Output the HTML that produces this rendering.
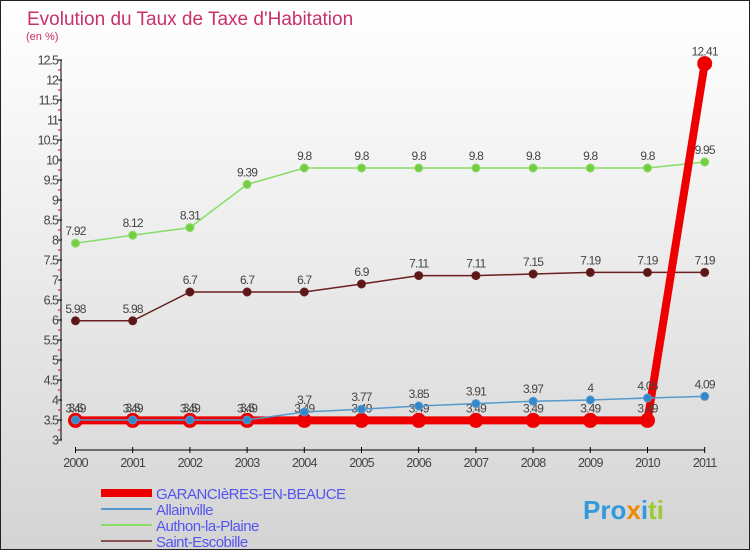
<!DOCTYPE html>
<html><head><meta charset="utf-8"><style>
body{margin:0;width:750px;height:550px;overflow:hidden}
#c{position:relative;width:748px;height:548px;border:1px solid #222;background:linear-gradient(#fff 0%,#f3f3f3 30%,#d4d4d4 100%);font-family:"Liberation Sans",sans-serif}
</style></head><body>
<div id="c">
<svg id="s" width="748" height="548"></svg>
</div>
<script>
const years=["2000","2001","2002","2003","2004","2005","2006","2007","2008","2009","2010","2011"];
const garancieres=[3.49,3.49,3.49,3.49,3.49,3.49,3.49,3.49,3.49,3.49,3.49,12.41];
const allainville=[3.5,3.5,3.5,3.5,3.7,3.77,3.85,3.91,3.97,4,4.05,4.09];
const authon=[7.92,8.12,8.31,9.39,9.8,9.8,9.8,9.8,9.8,9.8,9.8,9.95];
const saint=[5.98,5.98,6.7,6.7,6.7,6.9,7.11,7.11,7.15,7.19,7.19,7.19];
const yTicks=[3,3.5,4,4.5,5,5.5,6,6.5,7,7.5,8,8.5,9,9.5,10,10.5,11,11.5,12,12.5];
const NS="http://www.w3.org/2000/svg";
const svg=document.getElementById('s');
const X=i=>74.5+i*57.2;
const Y=v=>439-(v-3)*40;
function mk(t,a,p){const e=document.createElementNS(NS,t);for(const k in a)e.setAttribute(k,a[k]);(p||svg).appendChild(e);return e;}
let t=mk('text',{x:26,y:24,fill:'#c8306a','font-size':19});t.textContent="Evolution du Taux de Taxe d'Habitation";

t=mk('text',{x:25,y:39,fill:'#c8306a','font-size':11});t.textContent="(en %)";

let ax=mk('line',{x1:60,y1:Y(12.5),x2:60,y2:Y(3),stroke:'#000'});

yTicks.forEach(v=>{
 mk('line',{x1:57,x2:61,y1:Y(v),y2:Y(v),stroke:'#000'});
 if(v<12.5)mk('line',{x1:57,x2:60,y1:Y(v+0.25),y2:Y(v+0.25),stroke:'#e00'});
 const l=mk('text',{x:57,y:Y(v)+4.5,'text-anchor':'end','font-size':12.5,fill:'#444','letter-spacing':'-1'});l.textContent=v;
 
});
let xa=mk('line',{x1:X(0),x2:X(11),y1:449,y2:449,stroke:'#000'});

years.forEach((y,i)=>{
 mk('line',{x1:X(i),x2:X(i),y1:446,y2:452,stroke:'#000'});
 const l=mk('text',{x:X(i),y:466,'text-anchor':'middle','font-size':12.5,fill:'#444','letter-spacing':'-0.8'});l.textContent=y;
 
});
function series(d,col,w,r,name,fill){
 const g=mk('g',{});
 mk('polyline',{points:d.map((v,i)=>X(i)+','+Y(v)).join(' '),fill:'none',stroke:col,'stroke-width':w},g);
 d.forEach((v,i)=>{
  const c=mk('circle',{cx:X(i),cy:Y(v),r:r,fill:fill,stroke:col,'stroke-width':1},g);
  
  const l=mk('text',{x:X(i),y:Y(v)-8,'text-anchor':'middle','font-size':12,fill:'#444','letter-spacing':'-0.8'},g);l.textContent=v;
 });
}
series(authon,'#88dd66',1.5,4,'authon-series','#77cc44');
series(saint,'#6b1f1f',1.5,4,'saint-escobille-series','#5a1818');
series(garancieres,'#ee0000',8,7,'garancieres-series','#ee0000');
series(allainville,'#5599cc',1.5,4,'allainville-series','#3388cc');
const leg=[["GARANCIèRES-EN-BEAUCE",'#ee0000',8],["Allainville",'#5599cc',2],["Authon-la-Plaine",'#88dd66',2],["Saint-Escobille",'#8a5050',2]];
leg.forEach((e,i)=>{
 const y=492+i*16;
 const g=mk('g',{});
 mk('line',{x1:100,x2:151,y1:y,y2:y,stroke:e[1],'stroke-width':e[2]},g);
 const l=mk('text',{x:155,y:y+6,'font-size':15,fill:'#5555ee','letter-spacing':'-0.5'},g);l.textContent=e[0];
});
const lg=mk('text',{x:582,y:518,'font-size':26,'font-weight':'bold',fill:'#3399dd'});
lg.innerHTML='Pro<tspan fill="#ee8800">x</tspan>i<tspan fill="#99cc33">ti</tspan>';

</script>
</body></html>
